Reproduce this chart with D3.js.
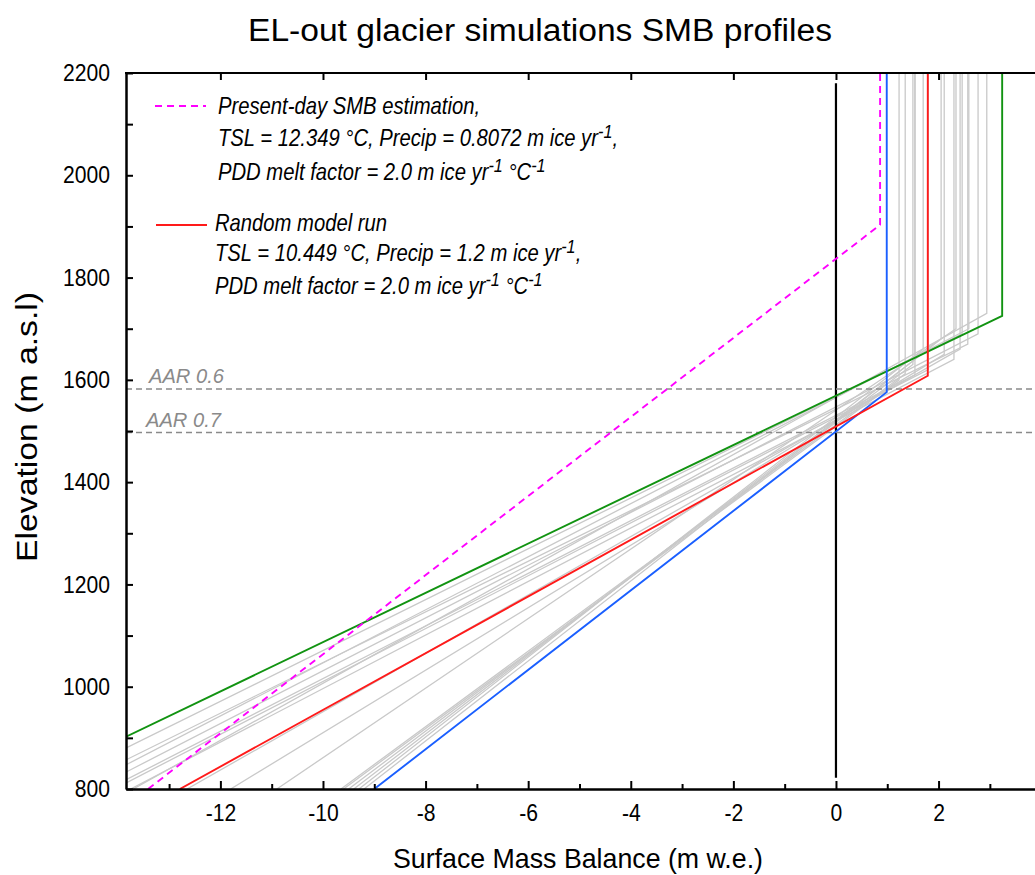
<!DOCTYPE html>
<html>
<head>
<meta charset="utf-8">
<script src="https://cdn.jsdelivr.net/npm/d3@7"></script>
<style>
  html, body { margin: 0; padding: 0; background: #fff; }
  svg { display: block; font-family: "Liberation Sans", Arial, Helvetica, sans-serif; }
</style>
</head>
<body>
<svg id="chart" width="1035" height="875"></svg>
<script>
// ---------------- data ----------------
const yMajorTicks = [800, 1000, 1200, 1400, 1600, 1800, 2000, 2200];
const yMinorTicks = [900, 1100, 1300, 1500, 1700, 1900, 2100];
const xMajorTicks = [-12, -10, -8, -6, -4, -2, 0, 2];
const xMinorTicks = [-13, -11, -9, -7, -5, -3, -1, 1, 3];

// profiles: [SMB, elevation] points (bottom, kink, top)
const presentSMB  = [-13.41, 0.86, 0.86];
const presentElev = [800, 1903, 2200];
const randomSMB   = [-12.79, 1.79, 1.79];
const randomElev  = [800, 1608, 2200];
const greenSMB    = [-15.96, 3.24, 3.24];
const greenElev   = [800, 1725, 2200];
const blueSMB     = [-9.0, 0.99, 0.99];
const blueElev    = [800, 1576, 2200];

// other model runs (grey): SMB at 800 m, SMB max (kink), kink elevation
const grayBottomSMB = [-9.65, -9.6, -9.5, -9.4, -9.3, -9.2, -11.8, -10.9, -12.65, -15.45, -14.99, -14.75, -14.48, -13.7, -14.07, -14.19, -13.75];
const grayKinkSMB   = [1.35, 1.23, 1.50, 1.54, 1.70, 2.05, 2.11, 2.34, 2.42, 2.46, 2.57, 2.59, 2.77, 2.94, 1.80, 1.54, 2.30];
const grayKinkElev  = [1612, 1600, 1630, 1640, 1660, 1680, 1650, 1700, 1660, 1690, 1670, 1700, 1690, 1730, 1620, 1610, 1640];

const aarLabels = ["AAR 0.6", "AAR 0.7"];
const aarElev   = [1582, 1497];

// ---------------- layout ----------------
const svg = d3.select("#chart");
const L = 126, R = 1035, T = 73, B = 789;
const x = d3.scaleLinear().domain([-13.84, 3.88]).range([L, R]);
const y = d3.scaleLinear().domain([800, 2200]).range([B, T]);

svg.append("defs").append("clipPath").attr("id", "clip")
  .append("rect").attr("x", L).attr("y", T).attr("width", R - L).attr("height", B - T);

const plot = svg.append("g").attr("clip-path", "url(#clip)");
const line = d3.line().x(d => x(d[0])).y(d => y(d[1]));

// grey runs
grayBottomSMB.forEach((s0, i) => {
  const pts = [[s0, 800], [grayKinkSMB[i], grayKinkElev[i]], [grayKinkSMB[i], 2200]];
  plot.append("path").attr("d", line(pts))
    .attr("fill", "none").attr("stroke", "#c9c9c9").attr("stroke-width", 1.3);
});

// zero line
plot.append("line")
  .attr("x1", x(0)).attr("x2", x(0)).attr("y1", y(2180)).attr("y2", y(822))
  .attr("stroke", "#000").attr("stroke-width", 2.2);

// AAR lines
aarElev.forEach((e, i) => {
  plot.append("line").attr("x1", L).attr("x2", R).attr("y1", y(e)).attr("y2", y(e))
    .attr("stroke", "#8a8a8a").attr("stroke-width", 1.4).attr("stroke-dasharray", "6,4");
  svg.append("text").attr("x", L + 23 - i * 3).attr("y", y(e) - 6)
    .attr("font-size", 20).attr("font-style", "italic").attr("fill", "#8a8a8a")
    .attr("textLength", 75).attr("lengthAdjust", "spacingAndGlyphs")
    .text(aarLabels[i]);
});

function prof(s, e) { return s.map((v, i) => [v, e[i]]); }
plot.append("path").attr("d", line(prof(greenSMB, greenElev)))
  .attr("fill", "none").attr("stroke", "#119311").attr("stroke-width", 1.9);
plot.append("path").attr("d", line(prof(blueSMB, blueElev)))
  .attr("fill", "none").attr("stroke", "#1a5fff").attr("stroke-width", 1.9);
plot.append("path").attr("d", line(prof(randomSMB, randomElev)))
  .attr("fill", "none").attr("stroke", "#ff1a1a").attr("stroke-width", 1.9);
plot.append("path").attr("d", line(prof(presentSMB, presentElev)))
  .attr("fill", "none").attr("stroke", "#ff00ff").attr("stroke-width", 1.9)
  .attr("stroke-dasharray", "7,5");

// ---------------- axes ----------------
const fmt = d => String(d);   // plain hyphen-minus, no thousands separator
const yAxisMajor = d3.axisLeft(y).tickValues(yMajorTicks).tickSize(-7).tickSizeOuter(0).tickPadding(16).tickFormat(fmt);
const yAxisMinor = d3.axisLeft(y).tickValues(yMinorTicks).tickSize(-7).tickSizeOuter(0).tickFormat("");
const gy = svg.append("g").attr("transform", `translate(${L},0)`).call(yAxisMajor);
svg.append("g").attr("transform", `translate(${L},0)`).call(yAxisMinor).select(".domain").remove();

const xAxisMajor = d3.axisBottom(x).tickValues(xMajorTicks).tickSize(-8).tickSizeOuter(0).tickPadding(15).tickFormat(fmt);
const xAxisMinor = d3.axisBottom(x).tickValues(xMinorTicks).tickSize(-5).tickSizeOuter(0).tickFormat("");
const gx = svg.append("g").attr("transform", `translate(0,${B})`).call(xAxisMajor);
svg.append("g").attr("transform", `translate(0,${B})`).call(xAxisMinor).select(".domain").remove();

[gy, gx].forEach(g => g.selectAll("text").attr("font-size", 24).attr("fill", "#000")
  .each(function () {
    const w = this.getComputedTextLength();
    d3.select(this).attr("textLength", w * 0.88).attr("lengthAdjust", "spacingAndGlyphs");
  }));

const xAxisTop = d3.axisTop(x).tickValues(xMajorTicks).tickSize(-7).tickSizeOuter(0).tickFormat("");
svg.append("g").attr("transform", `translate(0,${T})`).call(xAxisTop).select(".domain").remove();

svg.selectAll(".tick line").attr("stroke", "#000").attr("stroke-width", 2);
svg.selectAll(".domain").attr("stroke", "#000").attr("stroke-width", 2.5);

// frame top
svg.append("line").attr("x1", L - 1).attr("x2", R).attr("y1", T).attr("y2", T)
  .attr("stroke", "#000").attr("stroke-width", 2.2);

// ---------------- titles ----------------
svg.append("text").attr("x", 540).attr("y", 41).attr("text-anchor", "middle")
  .attr("font-size", 31).attr("textLength", 584).attr("lengthAdjust", "spacingAndGlyphs")
  .text("EL-out glacier simulations SMB profiles");

svg.append("text").attr("x", 578).attr("y", 868).attr("text-anchor", "middle")
  .attr("font-size", 28).attr("textLength", 370).attr("lengthAdjust", "spacingAndGlyphs")
  .text("Surface Mass Balance (m w.e.)");

svg.append("text").attr("transform", "translate(37,427) rotate(-90)").attr("text-anchor", "middle")
  .attr("font-size", 30).attr("textLength", 270).attr("lengthAdjust", "spacingAndGlyphs")
  .text("Elevation (m a.s.l)");

// ---------------- legend ----------------
const legendFont = 23;
const legendScaleX = 0.88;
const supRaise = 8;
function legendLine(xp, yp, parts) {
  const g = svg.append("g").attr("transform", `translate(${xp},${yp}) scale(${legendScaleX},1)`);
  const t = g.append("text").attr("x", 0).attr("y", 0)
    .attr("font-size", legendFont).attr("font-style", "italic").attr("fill", "#000");
  let raised = false;
  parts.forEach(p => {
    if (typeof p === "string") {
      t.append("tspan").attr("dy", raised ? supRaise : 0).text(p);
      raised = false;
    } else {
      t.append("tspan").attr("dy", -supRaise).attr("font-size", legendFont * 0.8).text(p.sup);
      raised = true;
    }
  });
  return t;
}
svg.append("line").attr("x1", 155).attr("x2", 206).attr("y1", 106).attr("y2", 106)
  .attr("stroke", "#ff00ff").attr("stroke-width", 2).attr("stroke-dasharray", "7,5");
legendLine(218, 114, ["Present-day SMB estimation,"]);
legendLine(218, 146, ["TSL = 12.349 °C, Precip = 0.8072 m ice yr", {sup: "-1"}, ","]);
legendLine(218, 180, ["PDD melt factor = 2.0 m ice yr", {sup: "-1"}, " °C", {sup: "-1"}]);

svg.append("line").attr("x1", 156).attr("x2", 207).attr("y1", 225).attr("y2", 225)
  .attr("stroke", "#ff1a1a").attr("stroke-width", 2);
legendLine(215, 231, ["Random model run"]);
legendLine(215, 261, ["TSL = 10.449 °C, Precip = 1.2 m ice yr", {sup: "-1"}, ","]);
legendLine(215, 294, ["PDD melt factor = 2.0 m ice yr", {sup: "-1"}, " °C", {sup: "-1"}]);
</script>
</body>
</html>
